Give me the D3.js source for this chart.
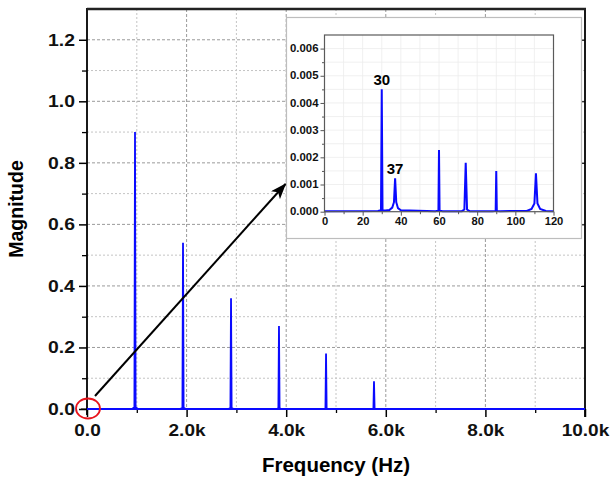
<!DOCTYPE html>
<html>
<head>
<meta charset="utf-8">
<script src="https://cdn.jsdelivr.net/npm/d3@7/dist/d3.min.js"></script>
<style>
  body { margin: 0; background: #fff; }
  svg { display: block; font-family: "Liberation Sans", Arial, sans-serif; }
  .tick text { font-weight: bold; fill: #111; transform-box: fill-box; }
  .ylab .tick text { transform-origin: right center; transform: scaleX(1.14); }
  .xlab .tick text { transform-origin: center; transform: scaleX(1.12); }
</style>
</head>
<body>
<div id="chart"></div>
<script>
// main spectrum: harmonic peaks (Hz, magnitude, foot height)
let peakFreq = [964, 1928, 2892, 3855, 4800, 5763];
let peakMag = [0.90, 0.54, 0.36, 0.27, 0.18, 0.09];
let peakFoot = [0.006, 0.004, 0.003, 0.002, 0.001, 0.001];

let yTicksMain = [0, 0.2, 0.4, 0.6, 0.8, 1.0, 1.2];
let xTicksMain = [0, 2000, 4000, 6000, 8000, 10000];

// inset: low frequency zoom (0 - 120 Hz)
let insetFreq = [0, 28, 29.6, 30, 30.4, 32, 34, 35.5, 36.4, 37, 37.6, 38.5, 40, 58, 59.7, 60, 60.3, 62,
    72, 73.3, 74, 74.7, 76, 88, 89.7, 90, 90.3, 92, 106, 108.5, 110, 110.8, 111.6, 113, 116, 120];
let insetMag = [0.00002, 0.00003, 0.00005, 0.0045, 0.00005, 0.00004, 0.00006, 0.00015, 0.00035, 0.00123, 0.00035, 0.00013, 0.00005,
    0.00002, 0.00004, 0.00227, 0.00004, 0.00002, 0.00002, 0.00008, 0.0018, 0.00008, 0.00002,
    0.00002, 0.00003, 0.0015, 0.00003, 0.00002, 0.00003, 0.0001, 0.0003, 0.00141, 0.0003, 0.0001, 0.00003, 0.00002];
let insetYTicks = [0, 0.001, 0.002, 0.003, 0.004, 0.005, 0.006];
let insetXTicks = [0, 20, 40, 60, 80, 100, 120];
let insetLabels = [{f: 30, m: 0.0045, text: "30"}, {f: 37, m: 0.00123, text: "37"}];

const blue = "#0a0aff";

class SpectrumVis {

    constructor(parentElement){
        this.parentElement = parentElement;
        this.initVis();
    }

    initVis(){
        let vis = this;

        vis.width = 611;
        vis.height = 481;
        vis.plot = {left: 87, right: 585, top: 9, bottom: 409};

        vis.svg = d3.select("#" + vis.parentElement).append("svg")
            .attr("width", vis.width)
            .attr("height", vis.height);

        vis.x = d3.scaleLinear().domain([0, 10000]).range([vis.plot.left, vis.plot.right]);
        vis.y = d3.scaleLinear().domain([0, 1.3]).range([vis.plot.bottom, vis.plot.top]);

        // inset placement
        vis.box = {left: 286.5, top: 17.5, width: 295, height: 221};
        vis.ix = d3.scaleLinear().domain([0, 120]).range([324.5, 553.5]);
        vis.iy = d3.scaleLinear().domain([0, 0.0065]).range([211.7, 35]);

        vis.wrangleData();
    }

    wrangleData(){
        let vis = this;

        vis.mainLine = [[0, 0]];
        peakFreq.forEach((f, i) => {
            vis.mainLine.push([f - 60, 0], [f - 12, peakFoot[i]], [f, peakMag[i]], [f + 12, peakFoot[i]], [f + 60, 0]);
        });
        vis.mainLine.push([10000, 0]);

        vis.insetLine = insetFreq.map((f, i) => [f, insetMag[i]]);

        vis.updateVis();
    }

    updateVis(){
        let vis = this;
        let p = vis.plot;

        // grid
        let minorY = d3.range(1, 13).map(d => d / 10);
        vis.svg.append("g").selectAll("line").data(minorY).join("line")
            .attr("x1", p.left).attr("x2", p.right)
            .attr("y1", d => vis.y(d)).attr("y2", d => vis.y(d))
            .attr("stroke", (d, i) => i % 2 ? "#9a9a9a" : "#c4c4c4")
            .attr("stroke-width", 1)
            .attr("stroke-dasharray", (d, i) => i % 2 ? "3,2" : "2,2");

        let minorX = d3.range(1, 10).map(d => d * 1000);
        vis.svg.append("g").selectAll("line").data(minorX).join("line")
            .attr("x1", d => vis.x(d)).attr("x2", d => vis.x(d))
            .attr("y1", p.top).attr("y2", p.bottom)
            .attr("stroke", (d, i) => i % 2 ? "#9a9a9a" : "#c4c4c4")
            .attr("stroke-width", 1)
            .attr("stroke-dasharray", (d, i) => i % 2 ? "3,2" : "2,2");

        // spectrum
        vis.svg.append("path")
            .datum(vis.mainLine)
            .attr("d", d3.line().x(d => vis.x(d[0])).y(d => vis.y(d[1])))
            .attr("fill", "none")
            .attr("stroke", blue)
            .attr("stroke-width", 1.8);

        // axes
        vis.svg.append("g")
            .attr("class", "ylab")
            .attr("transform", `translate(${p.left},0)`)
            .call(d3.axisLeft(vis.y).tickValues(yTicksMain).tickSize(8).tickPadding(4).tickFormat(d3.format(".1f")))
            .call(g => g.select(".domain").remove())
            .call(g => g.selectAll(".tick line").attr("stroke-width", 1.5))
            .call(g => g.selectAll(".tick text").style("font-size", "17px"));

        vis.svg.append("g")
            .attr("transform", `translate(${p.left},0)`)
            .call(d3.axisLeft(vis.y).tickValues(d3.range(1, 13, 2).map(d => d / 10)).tickSize(5).tickFormat(""))
            .call(g => g.select(".domain").remove())
            .call(g => g.selectAll(".tick line").attr("stroke-width", 1.3));

        vis.svg.append("g")
            .attr("class", "xlab")
            .attr("transform", `translate(0,${p.bottom})`)
            .call(d3.axisBottom(vis.x).tickValues(xTicksMain).tickSize(8).tickPadding(7)
                .tickFormat(d => d === 0 ? "0.0" : (d / 1000).toFixed(1) + "k"))
            .call(g => g.select(".domain").remove())
            .call(g => g.selectAll(".tick line").attr("stroke-width", 1.5))
            .call(g => g.selectAll(".tick text").style("font-size", "17px"));

        vis.svg.append("g")
            .attr("transform", `translate(0,${p.bottom})`)
            .call(d3.axisBottom(vis.x).tickValues(d3.range(1000, 10000, 2000)).tickSize(4).tickFormat(""))
            .call(g => g.select(".domain").remove())
            .call(g => g.selectAll(".tick line").attr("stroke-width", 1.3));

        vis.svg.append("g")
            .attr("transform", `translate(${p.right},0)`)
            .call(d3.axisRight(vis.y).tickValues(yTicksMain).tickSize(-4).tickFormat(""))
            .call(g => g.select(".domain").remove());

        // frame
        vis.svg.append("line").attr("x1", p.left).attr("x2", p.left).attr("y1", p.top - 1).attr("y2", p.bottom + 6)
            .attr("stroke", "#000").attr("stroke-width", 1.8);
        vis.svg.append("line").attr("x1", p.right).attr("x2", p.right).attr("y1", p.top - 1).attr("y2", p.bottom + 8)
            .attr("stroke", "#000").attr("stroke-width", 1.8);
        vis.svg.append("line").attr("x1", p.left - 6).attr("x2", p.right).attr("y1", p.bottom).attr("y2", p.bottom)
            .attr("stroke", "#000").attr("stroke-width", 1.2);
        vis.svg.append("line").attr("x1", p.left).attr("x2", p.right + 1).attr("y1", p.top).attr("y2", p.top)
            .attr("stroke", "#222").attr("stroke-width", 2.6);
        vis.svg.append("path")
            .datum([[0, 0], [10000, 0]])
            .attr("d", d3.line().x(d => vis.x(d[0])).y(d => vis.y(d[1])))
            .attr("stroke", blue).attr("stroke-width", 1.8);

        // titles
        vis.svg.append("text")
            .attr("x", (p.left + p.right) / 2).attr("y", 472)
            .attr("text-anchor", "middle")
            .style("font-size", "20.5px").style("font-weight", "bold")
            .text("Frequency (Hz)");

        vis.svg.append("text")
            .attr("transform", `translate(23,${(p.top + p.bottom) / 2}) rotate(-90)`)
            .attr("text-anchor", "middle")
            .style("font-size", "19.5px").style("font-weight", "bold")
            .text("Magnitude");

        vis.drawInset();

        // annotation: red circle at origin + arrow to inset
        vis.svg.append("ellipse")
            .attr("cx", vis.x(0) + 1).attr("cy", vis.y(0) - 0.5)
            .attr("rx", 12).attr("ry", 10)
            .attr("fill", "none").attr("stroke", "#e8141c").attr("stroke-width", 1.8);

        vis.svg.append("defs").append("marker")
            .attr("id", "arrowhead")
            .attr("viewBox", "0 -6 16 12")
            .attr("refX", 15).attr("refY", 0)
            .attr("markerUnits", "userSpaceOnUse")
            .attr("markerWidth", 16).attr("markerHeight", 12)
            .attr("orient", "auto")
            .append("path")
            .attr("d", "M0,-6L16,0L0,6L4,0Z")
            .attr("fill", "#000");

        vis.svg.append("line")
            .attr("x1", 95).attr("y1", 396)
            .attr("x2", vis.box.left - 1).attr("y2", 184)
            .attr("stroke", "#000").attr("stroke-width", 2)
            .attr("marker-end", "url(#arrowhead)");
    }

    drawInset(){
        let vis = this;
        let b = vis.box;
        let g = vis.svg.append("g").attr("class", "inset");

        g.append("rect")
            .attr("x", b.left).attr("y", b.top)
            .attr("width", b.width).attr("height", b.height)
            .attr("fill", "#fff").attr("stroke", "#bdbdbd").attr("stroke-width", 1.2);

        let [x0, x1] = vis.ix.range();
        let [y0, y1] = vis.iy.range();

        // light grid
        g.append("g").selectAll("line").data(d3.range(10, 120, 10)).join("line")
            .attr("x1", d => vis.ix(d)).attr("x2", d => vis.ix(d))
            .attr("y1", y1).attr("y2", y0)
            .attr("stroke", "#ececec").attr("stroke-width", 0.8);
        g.append("g").selectAll("line").data(d3.range(1, 13).map(d => d * 0.0005)).join("line")
            .attr("x1", x0).attr("x2", x1)
            .attr("y1", d => vis.iy(d)).attr("y2", d => vis.iy(d))
            .attr("stroke", "#ececec").attr("stroke-width", 0.8);

        g.append("path")
            .datum(vis.insetLine)
            .attr("d", d3.line().x(d => vis.ix(d[0])).y(d => vis.iy(d[1])))
            .attr("fill", "none")
            .attr("stroke", blue)
            .attr("stroke-width", 2);

        g.append("g")
            .attr("class", "ylab")
            .attr("transform", `translate(${x0},0)`)
            .call(d3.axisLeft(vis.iy).tickValues(insetYTicks).tickSize(4).tickPadding(2).tickFormat(d3.format(".3f")))
            .call(a => a.select(".domain").remove())
            .call(a => a.selectAll(".tick line").attr("stroke", "#555"))
            .call(a => a.selectAll(".tick text").style("font-size", "10px"));
        g.append("g")
            .attr("transform", `translate(${x0},0)`)
            .call(d3.axisLeft(vis.iy).tickValues(d3.range(1, 13, 2).map(d => d * 0.0005)).tickSize(2.5).tickFormat(""))
            .call(a => a.select(".domain").remove())
            .call(a => a.selectAll(".tick line").attr("stroke", "#555"));

        g.append("g")
            .attr("class", "xlab")
            .attr("transform", `translate(0,${y0})`)
            .call(d3.axisBottom(vis.ix).tickValues(insetXTicks).tickSize(4).tickPadding(2))
            .call(a => a.select(".domain").remove())
            .call(a => a.selectAll(".tick line").attr("stroke", "#555"))
            .call(a => a.selectAll(".tick text").style("font-size", "10px"));
        g.append("g")
            .attr("transform", `translate(0,${y0})`)
            .call(d3.axisBottom(vis.ix).tickValues(d3.range(10, 120, 20)).tickSize(2.5).tickFormat(""))
            .call(a => a.select(".domain").remove())
            .call(a => a.selectAll(".tick line").attr("stroke", "#555"));

        g.append("rect")
            .attr("x", x0).attr("y", y1)
            .attr("width", x1 - x0).attr("height", y0 - y1)
            .attr("fill", "none").attr("stroke", "#5a5a5a").attr("stroke-width", 1.2);

        g.selectAll(".peak-label").data(insetLabels).join("text")
            .attr("class", "peak-label")
            .attr("x", d => vis.ix(d.f))
            .attr("y", d => vis.iy(d.m) - 4)
            .attr("text-anchor", "middle")
            .style("font-size", "15px").style("font-weight", "bold")
            .text(d => d.text);
    }
}

new SpectrumVis("chart");
</script>
</body>
</html>
